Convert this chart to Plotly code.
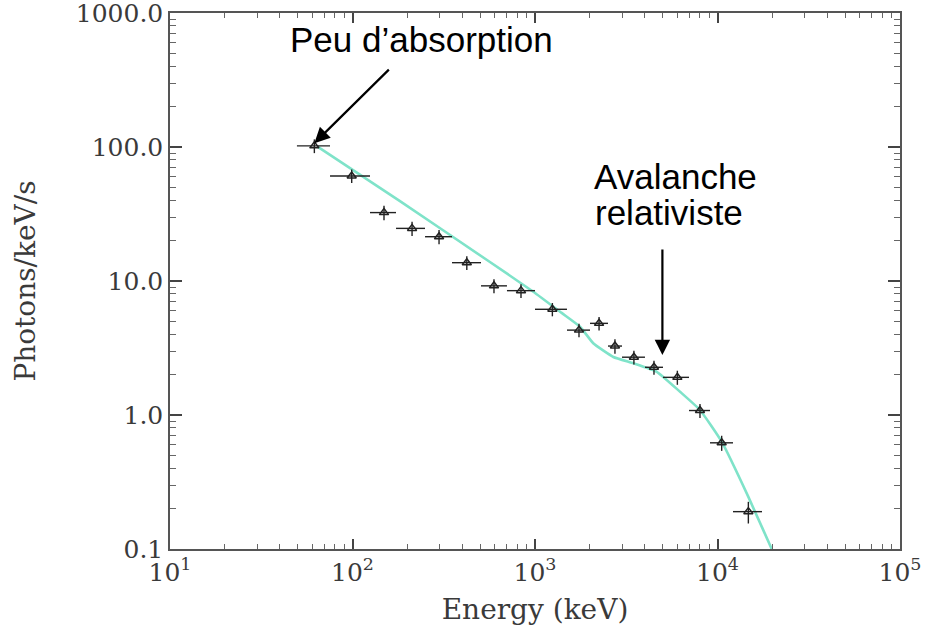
import math
import plotly.graph_objects as go

# ---- data ----
energy_kev = [61.8, 99, 148.8, 212, 298, 423, 596, 838, 1245, 1742, 2244, 2742, 3483, 4487, 6026, 8017, 10540, 14760]
bin_lo_kev = [49.6, 75.3, 124.7, 173.2, 249.7, 351, 506, 702, 1000, 1497, 2002, 2512, 2998, 4005, 5027, 6980, 9097, 12160]
bin_hi_kev = [75.3, 124.7, 173.2, 249.7, 351, 506, 702, 1000, 1497, 2002, 2512, 2998, 4005, 5027, 6980, 9097, 12160, 17530]
flux = [102, 60.8, 32.4, 24.7, 21.4, 13.7, 9.2, 8.47, 6.15, 4.3, 4.83, 3.27, 2.70, 2.27, 1.91, 1.08, 0.62, 0.19]
flux_err = [12, 7, 4, 3, 2.6, 1.6, 1.1, 1.0, 0.7, 0.5, 0.55, 0.4, 0.32, 0.27, 0.23, 0.13, 0.08, 0.035]

model_kev = [64, 182, 543, 979, 1400, 1766, 2085, 2686, 3458, 4645, 6237, 8017, 10540, 14760, 19820]
model_flux = [101, 39.5, 14.4, 8.32, 5.78, 4.56, 3.43, 2.71, 2.43, 2.10, 1.49, 1.09, 0.632, 0.245, 0.1]

x_tickvals = [10, 100, 1000, 10000, 100000]
x_ticktext = ["10<sup>1</sup>", "10<sup>2</sup>", "10<sup>3</sup>", "10<sup>4</sup>", "10<sup>5</sup>"]
y_tickvals = [0.1, 1, 10, 100, 1000]
y_ticktext = ["0.1", "1.0", "10.0", "100.0", "1000.0"]
minor_digits = [2, 3, 4, 5, 6, 7, 8, 9]

label_absorption = "Peu d’absorption"
label_aval_1 = "Avalanche"
label_aval_2 = "relativiste"
arrow2_target = (4990, 2.8)

x_minor = [d * 10 ** k for k in range(1, 5) for d in minor_digits]
y_minor = [d * 10.0 ** k for k in range(-1, 3) for d in minor_digits]

# ---- figure ----
fig = go.Figure()

fig.add_trace(go.Scatter(
    x=model_kev, y=model_flux, mode="lines",
    line=dict(color="#7fe3c9", width=2.6, shape="spline", smoothing=0.4),
    hoverinfo="skip", showlegend=False,
))

fig.add_trace(go.Scatter(
    x=energy_kev, y=flux, mode="markers",
    marker=dict(symbol="triangle-up-open", size=8, color="#222222", line=dict(width=1.5, color="#222222")),
    error_x=dict(type="data", symmetric=False,
                 array=[h - e for h, e in zip(bin_hi_kev, energy_kev)],
                 arrayminus=[e - l for e, l in zip(energy_kev, bin_lo_kev)],
                 color="#222222", thickness=1.4, width=0),
    error_y=dict(type="data", array=flux_err, color="#222222", thickness=1.4, width=0),
    showlegend=False,
))

tick_font = dict(family="DejaVu Serif", size=25, color="#3a3a3a")
title_font = dict(family="DejaVu Serif", size=28, color="#3a3a3a")

fig.update_layout(
    width=927, height=631,
    margin=dict(l=170, r=27, t=13, b=82),
    plot_bgcolor="white", paper_bgcolor="white",
    showlegend=False,
    xaxis=dict(
        type="log", range=[1, 5], automargin=False,
        tickmode="array", tickvals=x_tickvals, ticktext=x_ticktext,
        ticks="inside", ticklen=10, tickwidth=1.6, tickcolor="#444444",
        minor=dict(tickmode="array", tickvals=x_minor, ticks="inside", ticklen=5, tickwidth=1.2, tickcolor="#666666"),
        showline=True, linecolor="#555555", linewidth=1.5, mirror="allticks",
        showgrid=False, zeroline=False,
        tickfont=tick_font, ticklabeloverflow="allow",
        title=dict(text="Energy (keV)", font=title_font, standoff=14),
    ),
    yaxis=dict(
        type="log", range=[-1, 3], automargin=False,
        tickmode="array", tickvals=y_tickvals, ticktext=y_ticktext,
        ticks="inside", ticklen=12, tickwidth=1.6, tickcolor="#444444",
        minor=dict(tickmode="array", tickvals=y_minor, ticks="inside", ticklen=6, tickwidth=1.2, tickcolor="#666666"),
        showline=True, linecolor="#555555", linewidth=1.5, mirror="allticks",
        showgrid=False, zeroline=False,
        tickfont=tick_font, ticklabeloverflow="allow",
        title=dict(text="Photons/keV/s", font=title_font, standoff=32),
    ),
)

text_font = dict(family="Liberation Sans, Arial", size=35, color="black")

fig.add_annotation(xref="paper", yref="paper", x=0.1616, y=0.951, xanchor="left", yanchor="middle",
                   text=label_absorption, showarrow=False, font=text_font)
fig.add_annotation(xref="paper", yref="paper", x=0.5777, y=0.695, xanchor="left", yanchor="middle",
                   text=label_aval_1, showarrow=False, font=text_font)
fig.add_annotation(xref="paper", yref="paper", x=0.5795, y=0.628, xanchor="left", yanchor="middle",
                   text=label_aval_2, showarrow=False, font=text_font)

# arrow pointing to the first data point
fig.add_annotation(xref="x", yref="y", x=math.log10(energy_kev[0]), y=math.log10(flux[0]) + 0.02,
                   text="", showarrow=True, ax=76, ay=-75,
                   arrowhead=2, arrowsize=1.4, arrowwidth=2.2, arrowcolor="black", standoff=0)
# vertical arrow (relativistic avalanche)
fig.add_annotation(xref="x", yref="y", x=math.log10(arrow2_target[0]), y=math.log10(arrow2_target[1]),
                   text="", showarrow=True, ax=0, ay=-107,
                   arrowhead=2, arrowsize=1.4, arrowwidth=2.2, arrowcolor="black", standoff=0)

fig.write_html("out.html")
